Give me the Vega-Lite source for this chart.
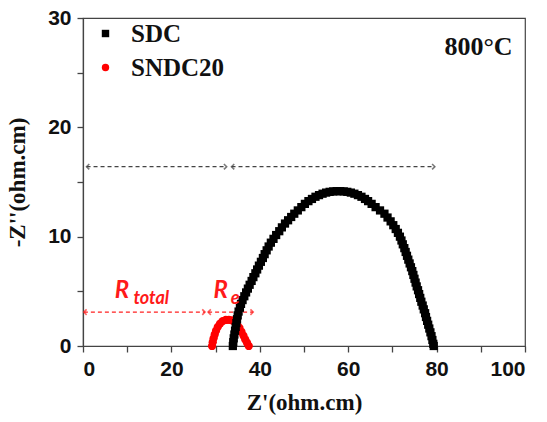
{
  "$schema": "https://vega.github.io/schema/vega-lite/v6.json",
  "width": 442,
  "height": 328,
  "autosize": {"type": "none"},
  "padding": {"left": 83, "top": 18, "right": 22, "bottom": 76},
  "background": "white",
  "config": {
    "view": {"stroke": "#444", "strokeWidth": 1.2},
    "axis": {
      "domainColor": "#444", "domainWidth": 1.2, "tickColor": "#444", "tickWidth": 1.3,
      "grid": false, "labelFont": "Liberation Sans", "labelFontWeight": "bold", "labelFontSize": 21,
      "labelColor": "#111", "titleFont": "Liberation Serif", "titleFontWeight": "bold",
      "titleFontSize": 23, "titleColor": "#111"
    }
  },
  "datasets": {
    "curves": [
      {"series": "SNDC20", "zr": 29.2, "zi": 0.0},
      {"series": "SNDC20", "zr": 29.35, "zi": 0.35},
      {"series": "SNDC20", "zr": 29.55, "zi": 0.7},
      {"series": "SNDC20", "zr": 29.8, "zi": 1.05},
      {"series": "SNDC20", "zr": 30.1, "zi": 1.4},
      {"series": "SNDC20", "zr": 30.5, "zi": 1.75},
      {"series": "SNDC20", "zr": 31.0, "zi": 2.05},
      {"series": "SNDC20", "zr": 31.6, "zi": 2.27},
      {"series": "SNDC20", "zr": 32.3, "zi": 2.38},
      {"series": "SNDC20", "zr": 33.0, "zi": 2.4},
      {"series": "SNDC20", "zr": 33.7, "zi": 2.35},
      {"series": "SNDC20", "zr": 34.3, "zi": 2.2},
      {"series": "SNDC20", "zr": 34.9, "zi": 1.95},
      {"series": "SNDC20", "zr": 35.4, "zi": 1.65},
      {"series": "SNDC20", "zr": 35.85, "zi": 1.3},
      {"series": "SNDC20", "zr": 36.3, "zi": 0.95},
      {"series": "SNDC20", "zr": 36.7, "zi": 0.6},
      {"series": "SNDC20", "zr": 37.1, "zi": 0.3},
      {"series": "SNDC20", "zr": 37.5, "zi": 0.0},
      {"series": "SDC", "zr": 33.9, "zi": 0.0},
      {"series": "SDC", "zr": 34.0, "zi": 0.35},
      {"series": "SDC", "zr": 34.1, "zi": 0.7},
      {"series": "SDC", "zr": 34.25, "zi": 1.05},
      {"series": "SDC", "zr": 34.4, "zi": 1.4},
      {"series": "SDC", "zr": 34.55, "zi": 1.75},
      {"series": "SDC", "zr": 34.7, "zi": 2.1},
      {"series": "SDC", "zr": 34.85, "zi": 2.45},
      {"series": "SDC", "zr": 35.0, "zi": 2.8},
      {"series": "SDC", "zr": 35.2, "zi": 3.15},
      {"series": "SDC", "zr": 35.5, "zi": 3.5},
      {"series": "SDC", "zr": 35.75, "zi": 3.85},
      {"series": "SDC", "zr": 36.1, "zi": 4.2},
      {"series": "SDC", "zr": 36.5, "zi": 4.55},
      {"series": "SDC", "zr": 36.9, "zi": 4.9},
      {"series": "SDC", "zr": 37.3, "zi": 5.25},
      {"series": "SDC", "zr": 37.7, "zi": 5.6},
      {"series": "SDC", "zr": 38.15, "zi": 5.95},
      {"series": "SDC", "zr": 38.55, "zi": 6.3},
      {"series": "SDC", "zr": 39.0, "zi": 6.65},
      {"series": "SDC", "zr": 39.4, "zi": 7.0},
      {"series": "SDC", "zr": 39.8, "zi": 7.35},
      {"series": "SDC", "zr": 40.25, "zi": 7.7},
      {"series": "SDC", "zr": 40.7, "zi": 8.05},
      {"series": "SDC", "zr": 41.1, "zi": 8.4},
      {"series": "SDC", "zr": 41.55, "zi": 8.75},
      {"series": "SDC", "zr": 42.0, "zi": 9.1},
      {"series": "SDC", "zr": 42.5, "zi": 9.45},
      {"series": "SDC", "zr": 43.1, "zi": 9.8},
      {"series": "SDC", "zr": 43.7, "zi": 10.15},
      {"series": "SDC", "zr": 44.4, "zi": 10.5},
      {"series": "SDC", "zr": 45.0, "zi": 10.85},
      {"series": "SDC", "zr": 45.7, "zi": 11.2},
      {"series": "SDC", "zr": 46.4, "zi": 11.5},
      {"series": "SDC", "zr": 47.1, "zi": 11.8},
      {"series": "SDC", "zr": 47.8, "zi": 12.1},
      {"series": "SDC", "zr": 48.6, "zi": 12.4},
      {"series": "SDC", "zr": 49.4, "zi": 12.7},
      {"series": "SDC", "zr": 50.2, "zi": 13.0},
      {"series": "SDC", "zr": 51.0, "zi": 13.25},
      {"series": "SDC", "zr": 51.8, "zi": 13.45},
      {"series": "SDC", "zr": 52.6, "zi": 13.65},
      {"series": "SDC", "zr": 53.4, "zi": 13.8},
      {"series": "SDC", "zr": 54.2, "zi": 13.93},
      {"series": "SDC", "zr": 55.0, "zi": 14.03},
      {"series": "SDC", "zr": 55.8, "zi": 14.1},
      {"series": "SDC", "zr": 56.6, "zi": 14.14},
      {"series": "SDC", "zr": 57.4, "zi": 14.16},
      {"series": "SDC", "zr": 58.2, "zi": 14.16},
      {"series": "SDC", "zr": 59.0, "zi": 14.14},
      {"series": "SDC", "zr": 59.8, "zi": 14.1},
      {"series": "SDC", "zr": 60.6, "zi": 14.03},
      {"series": "SDC", "zr": 61.4, "zi": 13.93},
      {"series": "SDC", "zr": 62.2, "zi": 13.8},
      {"series": "SDC", "zr": 63.0, "zi": 13.65},
      {"series": "SDC", "zr": 63.8, "zi": 13.45},
      {"series": "SDC", "zr": 64.5, "zi": 13.25},
      {"series": "SDC", "zr": 65.3, "zi": 13.0},
      {"series": "SDC", "zr": 66.2, "zi": 12.7},
      {"series": "SDC", "zr": 67.2, "zi": 12.4},
      {"series": "SDC", "zr": 68.2, "zi": 12.1},
      {"series": "SDC", "zr": 68.9, "zi": 11.75},
      {"series": "SDC", "zr": 69.6, "zi": 11.4},
      {"series": "SDC", "zr": 70.2, "zi": 11.05},
      {"series": "SDC", "zr": 70.75, "zi": 10.7},
      {"series": "SDC", "zr": 71.25, "zi": 10.35},
      {"series": "SDC", "zr": 71.7, "zi": 10.0},
      {"series": "SDC", "zr": 72.05, "zi": 9.65},
      {"series": "SDC", "zr": 72.35, "zi": 9.3},
      {"series": "SDC", "zr": 72.7, "zi": 8.95},
      {"series": "SDC", "zr": 73.0, "zi": 8.6},
      {"series": "SDC", "zr": 73.3, "zi": 8.25},
      {"series": "SDC", "zr": 73.6, "zi": 7.9},
      {"series": "SDC", "zr": 73.9, "zi": 7.55},
      {"series": "SDC", "zr": 74.2, "zi": 7.2},
      {"series": "SDC", "zr": 74.5, "zi": 6.85},
      {"series": "SDC", "zr": 74.75, "zi": 6.5},
      {"series": "SDC", "zr": 75.0, "zi": 6.15},
      {"series": "SDC", "zr": 75.25, "zi": 5.8},
      {"series": "SDC", "zr": 75.5, "zi": 5.45},
      {"series": "SDC", "zr": 75.8, "zi": 5.1},
      {"series": "SDC", "zr": 76.05, "zi": 4.75},
      {"series": "SDC", "zr": 76.3, "zi": 4.4},
      {"series": "SDC", "zr": 76.55, "zi": 4.05},
      {"series": "SDC", "zr": 76.85, "zi": 3.7},
      {"series": "SDC", "zr": 77.1, "zi": 3.35},
      {"series": "SDC", "zr": 77.4, "zi": 3.0},
      {"series": "SDC", "zr": 77.6, "zi": 2.65},
      {"series": "SDC", "zr": 77.85, "zi": 2.3},
      {"series": "SDC", "zr": 78.1, "zi": 1.95},
      {"series": "SDC", "zr": 78.35, "zi": 1.6},
      {"series": "SDC", "zr": 78.6, "zi": 1.25},
      {"series": "SDC", "zr": 78.85, "zi": 0.9},
      {"series": "SDC", "zr": 79.05, "zi": 0.55},
      {"series": "SDC", "zr": 79.25, "zi": 0.2},
      {"series": "SDC", "zr": 79.35, "zi": 0.0}
    ],
    "spans": [
      {"group": "black", "x1": 0.8, "x2": 32.5, "y": 16.4},
      {"group": "black", "x1": 33.6, "x2": 79.6, "y": 16.4},
      {"group": "red", "x1": 0.2, "x2": 27.6, "y": 3.1},
      {"group": "red", "x1": 28.3, "x2": 38.5, "y": 3.1}
    ]
  },
  "layer": [
    {
      "data": {"name": "spans"},
      "transform": [{"filter": "datum.group === 'black'"}],
      "mark": {"type": "rule", "color": "#444", "strokeWidth": 1.3, "strokeDash": [4, 3]},
      "encoding": {
        "x": {"field": "x1", "type": "quantitative", "scale": {"domain": [0, 100], "nice": false},
          "axis": {"values": [0, 10, 20, 30, 40, 50, 60, 70, 80, 90, 100],
            "labelExpr": "datum.value % 20 === 0 ? datum.label : ''",
            "tickSize": 6, "labelPadding": 6, "title": "Z'(ohm.cm)", "titlePadding": 12}},
        "x2": {"field": "x2"},
        "y": {"field": "y", "type": "quantitative", "scale": {"domain": [0, 30], "nice": false},
          "axis": {"values": [0, 5, 10, 15, 20, 25, 30],
            "labelExpr": "datum.value % 10 === 0 ? datum.label : ''",
            "tickSize": 6, "labelPadding": 6, "title": "-Z''(ohm.cm)", "titlePadding": 18}}
      }
    },
    {
      "data": {"name": "spans"},
      "transform": [{"filter": "datum.group === 'red'"}],
      "mark": {"type": "rule", "color": "#ff2020", "strokeWidth": 1.3, "strokeDash": [4, 3]},
      "encoding": {
        "x": {"field": "x1", "type": "quantitative"},
        "x2": {"field": "x2"},
        "y": {"field": "y", "type": "quantitative"}
      }
    },
    {
      "data": {"name": "spans"},
      "transform": [{"filter": "datum.group === 'black'"}],
      "mark": {"type": "point", "shape": "M-1,-1L0,0L-1,1", "filled": false, "color": "#444", "strokeWidth": 1.6, "size": 30},
      "encoding": {"x": {"field": "x2", "type": "quantitative"}, "y": {"field": "y", "type": "quantitative"}}
    },
    {
      "data": {"name": "spans"},
      "transform": [{"filter": "datum.group === 'black'"}],
      "mark": {"type": "point", "shape": "M1,-1L0,0L1,1", "filled": false, "color": "#444", "strokeWidth": 1.6, "size": 30},
      "encoding": {"x": {"field": "x1", "type": "quantitative"}, "y": {"field": "y", "type": "quantitative"}}
    },
    {
      "data": {"name": "spans"},
      "transform": [{"filter": "datum.group === 'red'"}],
      "mark": {"type": "point", "shape": "M-1,-1L0,0L-1,1", "filled": false, "color": "#ff2020", "strokeWidth": 1.6, "size": 30},
      "encoding": {"x": {"field": "x2", "type": "quantitative"}, "y": {"field": "y", "type": "quantitative"}}
    },
    {
      "data": {"name": "spans"},
      "transform": [{"filter": "datum.group === 'red'"}],
      "mark": {"type": "point", "shape": "M1,-1L0,0L1,1", "filled": false, "color": "#ff2020", "strokeWidth": 1.6, "size": 30},
      "encoding": {"x": {"field": "x1", "type": "quantitative"}, "y": {"field": "y", "type": "quantitative"}}
    },
    {
      "data": {"name": "curves"},
      "mark": {"type": "point", "filled": true, "opacity": 1, "size": 68},
      "encoding": {
        "x": {"field": "zr", "type": "quantitative"},
        "y": {"field": "zi", "type": "quantitative"},
        "color": {"field": "series", "type": "nominal",
          "scale": {"domain": ["SDC", "SNDC20"], "range": ["#000000", "#ff0000"]},
          "legend": {"orient": "none", "legendX": 10, "legendY": 3, "title": null,
            "labelFont": "Liberation Serif", "labelFontWeight": "bold", "labelFontSize": 25,
            "labelColor": "#111", "symbolSize": 55, "rowPadding": 8, "labelOffset": 13}},
        "shape": {"field": "series", "type": "nominal",
          "scale": {"domain": ["SDC", "SNDC20"], "range": ["square", "circle"]}}
      }
    },
    {
      "data": {"values": [{"zr": 97.2, "zi": 26.6, "t": "800°C"}]},
      "mark": {"type": "text", "align": "right", "baseline": "alphabetic", "font": "Liberation Serif", "fontWeight": "bold", "fontSize": 26, "color": "#111"},
      "encoding": {"x": {"field": "zr", "type": "quantitative"}, "y": {"field": "zi", "type": "quantitative"}, "text": {"field": "t"}}
    },
    {
      "data": {"values": [{"zr": 7.2, "zi": 4.36, "t": "R"}, {"zr": 29.5, "zi": 4.36, "t": "R"}]},
      "mark": {"type": "text", "align": "left", "baseline": "alphabetic", "font": "Lato", "fontWeight": "bold", "fontStyle": "italic", "fontSize": 24, "color": "#ff1a1a"},
      "encoding": {"x": {"field": "zr", "type": "quantitative"}, "y": {"field": "zi", "type": "quantitative"}, "text": {"field": "t"}}
    },
    {
      "data": {"values": [{"zr": 11.4, "zi": 3.8, "t": "total"}, {"zr": 33.4, "zi": 3.8, "t": "e"}]},
      "mark": {"type": "text", "align": "left", "baseline": "alphabetic", "font": "Lato", "fontWeight": "bold", "fontStyle": "italic", "fontSize": 18, "color": "#ff1a1a"},
      "encoding": {"x": {"field": "zr", "type": "quantitative"}, "y": {"field": "zi", "type": "quantitative"}, "text": {"field": "t"}}
    }
  ]
}
